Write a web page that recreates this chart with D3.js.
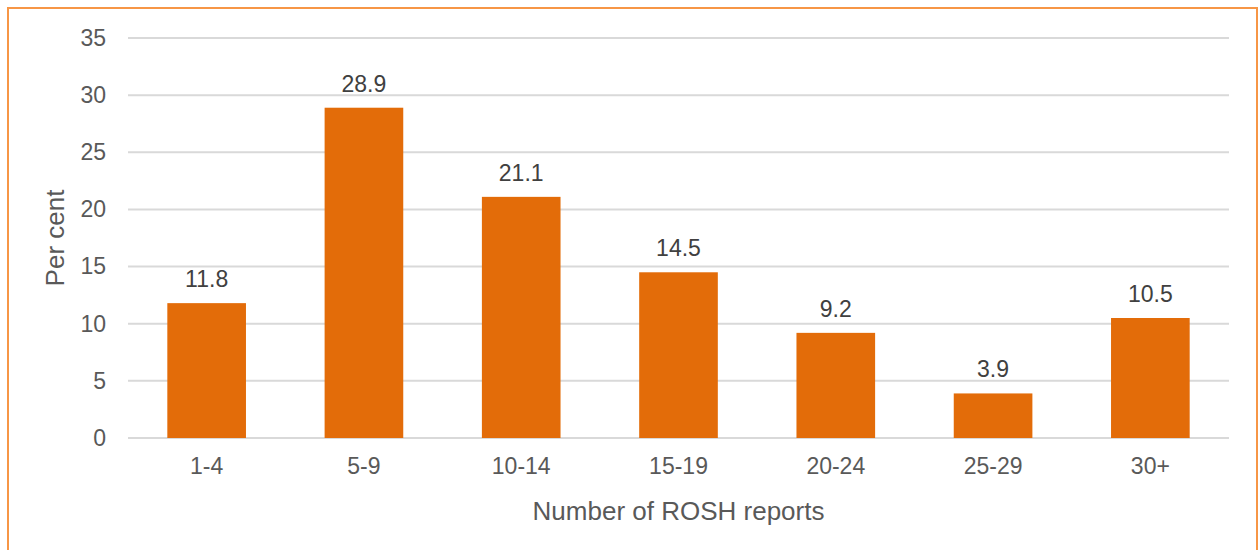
<!DOCTYPE html>
<html>
<head>
<meta charset="utf-8">
<script src="https://cdn.jsdelivr.net/npm/d3@7"></script>
<style>
  body { margin: 0; background: #fff; }
  svg { font-family: "Liberation Sans", Arial, sans-serif; }
</style>
</head>
<body>
<svg width="1260" height="550"></svg>
<script>
var categories = ["1-4", "5-9", "10-14", "15-19", "20-24", "25-29", "30+"];
var values = [11.8, 28.9, 21.1, 14.5, 9.2, 3.9, 10.5];
var yTicks = [0, 5, 10, 15, 20, 25, 30, 35];

var svg = d3.select("svg"),
    margin = {top: 38, right: 31, bottom: 112, left: 128},
    width = +svg.attr("width") - (margin.left + margin.right),
    height = +svg.attr("height") - (margin.top + margin.bottom);

// outer frame
svg.append("rect")
    .attr("x", 8).attr("y", 8)
    .attr("width", 1249).attr("height", 560)
    .attr("fill", "none")
    .attr("stroke", "#f79646")
    .attr("stroke-width", 2);

var x = d3.scaleBand().domain(categories).range([0, width]).paddingInner(0.5).paddingOuter(0.25),
    y = d3.scaleLinear().domain([0, 35]).range([height, 0]);

var g = svg.append("g").attr("transform", "translate(" + margin.left + "," + margin.top + ")");

g.selectAll(".grid")
    .data(yTicks)
    .enter().append("line")
    .attr("x1", 0)
    .attr("x2", width)
    .attr("y1", function(d) { return y(d); })
    .attr("y2", function(d) { return y(d); })
    .attr("stroke", "#d9d9d9")
    .attr("stroke-width", 2);

var yAxis = g.append("g")
    .call(d3.axisLeft(y).tickValues(yTicks).tickSize(0).tickPadding(22));
yAxis.select(".domain").remove();
yAxis.selectAll("text").attr("fill", "#595959").style("font-size", "23px");

var xAxis = g.append("g")
    .attr("transform", "translate(0," + height + ")")
    .call(d3.axisBottom(x).tickSize(0).tickPadding(20));
xAxis.select(".domain").remove();
xAxis.selectAll("text").attr("fill", "#595959").style("font-size", "23px");

g.selectAll(".bar")
    .data(values)
    .enter().append("rect")
    .attr("class", "bar")
    .attr("x", function(d, i) { return x(categories[i]); })
    .attr("y", function(d) { return y(d); })
    .attr("width", x.bandwidth())
    .attr("height", function(d) { return height - y(d); })
    .attr("fill", "#e36c09");

g.selectAll(".label")
    .data(values)
    .enter().append("text")
    .attr("x", function(d, i) { return x(categories[i]) + x.bandwidth() / 2; })
    .attr("y", function(d) { return y(d) - 16; })
    .attr("text-anchor", "middle")
    .attr("fill", "#404040")
    .style("font-size", "23px")
    .text(function(d) { return d.toFixed(1); });

svg.append("text")
    .attr("transform", "translate(64," + (margin.top + height / 2) + ") rotate(-90)")
    .attr("text-anchor", "middle")
    .attr("fill", "#595959")
    .style("font-size", "26px")
    .text("Per cent");

svg.append("text")
    .attr("x", margin.left + width / 2)
    .attr("y", 520)
    .attr("text-anchor", "middle")
    .attr("fill", "#595959")
    .style("font-size", "26px")
    .text("Number of ROSH reports");
</script>
</body>
</html>
